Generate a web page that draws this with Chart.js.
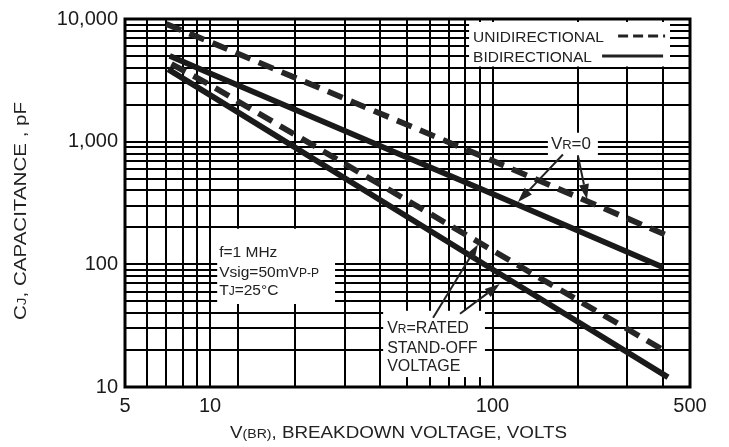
<!DOCTYPE html>
<html>
<head>
<meta charset="utf-8">
<script src="https://cdn.jsdelivr.net/npm/chart.js@4.4.1/dist/chart.umd.min.js"></script>
<style>
  html, body { margin: 0; padding: 0; background: #fff; }
</style>
</head>
<body>
<canvas id="capChart" width="729" height="447"></canvas>
<script>
// curves (x = breakdown voltage V, y = capacitance pF)
const uniZeroX = [7, 10, 100, 425];
const uniZeroY = [9100, 6500, 700, 168];
const biZeroX = [7.2, 10, 100, 400];
const biZeroY = [5000, 3600, 375, 95];
const uniRatedX = [7.3, 10, 100, 418];
const uniRatedY = [4300, 2900, 130, 19];
const biRatedX = [7.1, 10, 100, 418];
const biRatedY = [3900, 2400, 91, 12];

// grid and tick labels
const xGrid = [5, 6, 7, 8, 9, 10, 12.6, 20, 30, 40, 50, 60, 70, 80, 90, 100, 200, 300, 400, 500];
const xLabels = [5, 10, 100, 500];
const yGrid = [10, 20, 30, 40, 50, 60, 70, 80, 90,
  100, 200, 300, 400, 500, 600, 700, 800, 900,
  1000, 2000, 3000, 4000, 5000, 6000, 7000, 8000, 9000, 10000];
const yLabels = [10, 100, 1000, 10000];

const FONT = "'Liberation Sans', Arial, sans-serif";
const INK = "#1a1a1a";

function pts(xs, ys) {
  return xs.map((x, i) => ({ x: x, y: ys[i] }));
}

function curve(label, xs, ys, dashed) {
  return {
    label: label,
    data: pts(xs, ys),
    showLine: true,
    borderColor: dashed ? "#262626" : INK,
    borderWidth: 5.8,
    borderDash: dashed ? [16, 9] : [],
    borderCapStyle: "butt",
    pointRadius: 0,
    tension: 0
  };
}

// draw a row of text pieces with different sizes on one baseline
function runs(ctx, x, y, parts) {
  parts.forEach(p => {
    ctx.font = p[1] + "px " + FONT;
    ctx.fillText(p[0], x, y);
    x += ctx.measureText(p[0]).width;
  });
}

function runsWidth(ctx, parts) {
  let w = 0;
  parts.forEach(p => {
    ctx.font = p[1] + "px " + FONT;
    w += ctx.measureText(p[0]).width;
  });
  return w;
}

function arrow(ctx, x1, y1, x2, y2) {
  const a = Math.atan2(y2 - y1, x2 - x1);
  const len = 15, half = 5;
  const bx = x2 - len * Math.cos(a), by = y2 - len * Math.sin(a);
  ctx.beginPath();
  ctx.moveTo(x1, y1);
  ctx.lineTo(bx, by);
  ctx.stroke();
  ctx.beginPath();
  ctx.moveTo(x2, y2);
  ctx.lineTo(bx + half * Math.sin(a), by - half * Math.cos(a));
  ctx.lineTo(bx - half * Math.sin(a), by + half * Math.cos(a));
  ctx.closePath();
  ctx.fill();
}

// white label boxes that break the grid: [xMin, xMax, yTop, yBottom] in data units
const boxes = {
  legend: [82.6, 424.8, 9458, 4101],
  cond: [10.6, 27.7, 195, 47.5],
  rated: [41, 94, 41.8, 12.05],
  zero: [157, 236, 1183, 771]
};

const overlay = {
  id: "overlay",
  beforeDatasetsDraw(chart) {
    const { ctx, scales: { x, y } } = chart;
    ctx.save();
    ctx.fillStyle = "#fff";
    Object.values(boxes).forEach(b => {
      const l = x.getPixelForValue(b[0]), r = x.getPixelForValue(b[1]);
      const t = y.getPixelForValue(b[2]), btm = y.getPixelForValue(b[3]);
      ctx.fillRect(l, t, r - l, btm - t);
    });
    ctx.restore();
  },
  afterDatasetsDraw(chart) {
    const { ctx, chartArea: ca, scales: { x, y } } = chart;
    const px = v => x.getPixelForValue(v);
    const py = v => y.getPixelForValue(v);
    ctx.save();

    // frame
    ctx.strokeStyle = "#000";
    ctx.lineWidth = 3;
    ctx.strokeRect(ca.left, ca.top, ca.right - ca.left, ca.bottom - ca.top);

    ctx.fillStyle = "#222";
    ctx.strokeStyle = "#222";
    ctx.textBaseline = "alphabetic";

    // legend
    const lg = { l: px(boxes.legend[0]), t: py(boxes.legend[2]) };
    runs(ctx, lg.l + 4, lg.t + 20, [["UNIDIRECTIONAL", 15.5]]);
    runs(ctx, lg.l + 4, lg.t + 40, [["BIDIRECTIONAL", 15.5]]);
    ctx.lineWidth = 3;
    ctx.setLineDash([10, 5]);
    ctx.beginPath();
    ctx.moveTo(lg.l + 149, lg.t + 14);
    ctx.lineTo(lg.l + 196, lg.t + 14);
    ctx.stroke();
    ctx.setLineDash([]);
    ctx.beginPath();
    ctx.moveTo(lg.l + 133, lg.t + 34);
    ctx.lineTo(lg.l + 194, lg.t + 34);
    ctx.stroke();

    // test conditions
    const cb = { l: px(boxes.cond[0]), t: py(boxes.cond[2]) };
    runs(ctx, cb.l + 2, cb.t + 28, [["f=1 MHz", 15.5]]);
    runs(ctx, cb.l + 2, cb.t + 48, [["Vsig=50mV", 15.5], ["P-P", 12]]);
    runs(ctx, cb.l + 2, cb.t + 66, [["T", 15.5], ["J", 12], ["=25°C", 15.5]]);

    // VR = rated
    const rb = { l: px(boxes.rated[0]), t: py(boxes.rated[2]) };
    runs(ctx, rb.l + 4, rb.t + 22, [["V", 16], ["R", 12], ["=RATED", 16]]);
    runs(ctx, rb.l + 4, rb.t + 42, [["STAND-OFF", 16]]);
    runs(ctx, rb.l + 4, rb.t + 60, [["VOLTAGE", 16]]);

    // VR = 0
    const zb = { l: px(boxes.zero[0]), t: py(boxes.zero[2]) };
    runs(ctx, zb.l + 3, zb.t + 16, [["V", 17], ["R", 13], ["=0", 17]]);

    // arrows (data units)
    ctx.lineWidth = 2;
    arrow(ctx, px(177.5), py(785), px(123), py(322));
    arrow(ctx, px(200.5), py(771), px(216), py(340));
    arrow(ctx, px(61.6), py(36.7), px(88.8), py(145));
    arrow(ctx, px(76.7), py(39.5), px(106), py(69));

    // axis titles (stretched like the original lettering)
    const xt = [["V", 16], ["(BR)", 12], [", BREAKDOWN VOLTAGE, VOLTS", 16]];
    const xw = runsWidth(ctx, xt);
    ctx.save();
    ctx.translate(230, 438);
    ctx.scale(337 / xw, 1);
    runs(ctx, 0, 0, xt);
    ctx.restore();

    const yt = [["C", 16], ["J", 12], [", CAPACITANCE , pF", 16]];
    const yw = runsWidth(ctx, yt);
    ctx.save();
    ctx.translate(26, 211);
    ctx.rotate(-Math.PI / 2);
    ctx.scale(218 / yw, 1);
    runs(ctx, -yw / 2, 0, yt);
    ctx.restore();

    ctx.restore();
  }
};

const tickFont = { family: FONT, size: 20 };

new Chart(document.getElementById("capChart"), {
  type: "scatter",
  data: {
    datasets: [
      curve("Unidirectional VR=0", uniZeroX, uniZeroY, true),
      curve("Bidirectional VR=0", biZeroX, biZeroY, false),
      curve("Unidirectional VR=rated", uniRatedX, uniRatedY, true),
      curve("Bidirectional VR=rated", biRatedX, biRatedY, false)
    ]
  },
  options: {
    responsive: false,
    animation: false,
    devicePixelRatio: 1,
    layout: { padding: { top: 15, right: 39, left: 0, bottom: 0 } },
    plugins: { legend: { display: false }, tooltip: { enabled: false } },
    scales: {
      x: {
        type: "logarithmic",
        min: 5,
        max: 500,
        afterBuildTicks: s => { s.ticks = xGrid.map(v => ({ value: v })); },
        afterFit: s => { s.height = 60; },
        ticks: {
          autoSkip: false,
          maxRotation: 0,
          padding: 7,
          color: "#1a1a1a",
          font: tickFont,
          callback: v => xLabels.includes(v) ? String(v) : ""
        },
        grid: { color: "#000", lineWidth: 2, drawTicks: false },
        border: { display: false }
      },
      y: {
        type: "logarithmic",
        min: 10,
        max: 10000,
        afterBuildTicks: s => { s.ticks = yGrid.map(v => ({ value: v })); },
        afterFit: s => { s.width = 125; },
        ticks: {
          autoSkip: false,
          padding: 7,
          color: "#1a1a1a",
          font: tickFont,
          callback: v => yLabels.includes(v) ? v.toLocaleString("en-US") : ""
        },
        grid: { color: "#000", lineWidth: 2, drawTicks: false },
        border: { display: false }
      }
    }
  },
  plugins: [overlay]
});
</script>
</body>
</html>
